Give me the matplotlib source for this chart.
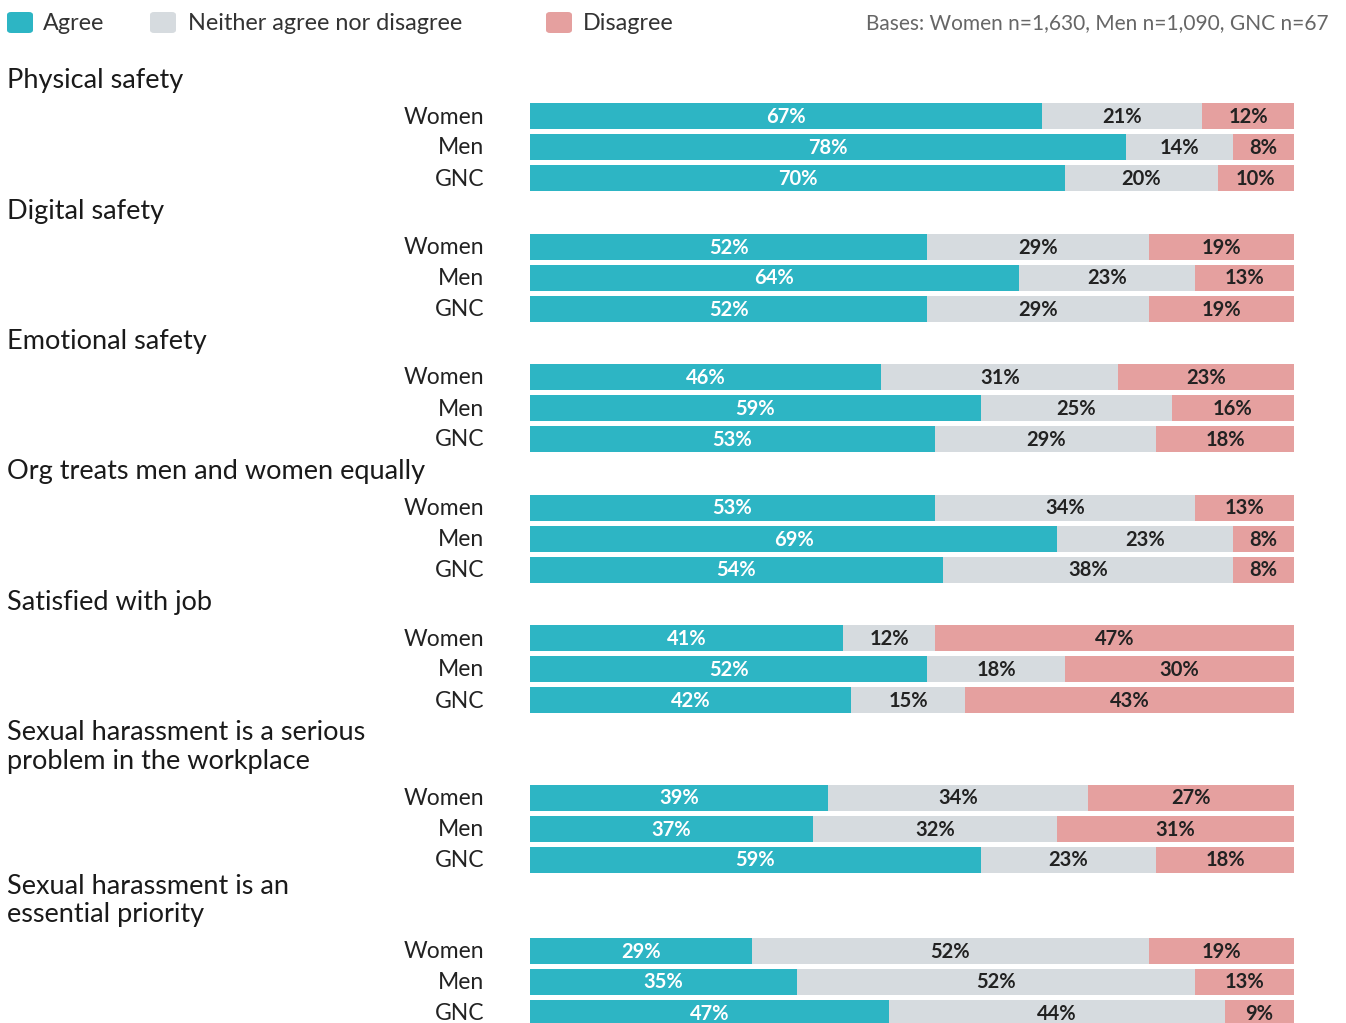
import matplotlib.pyplot as plt
from matplotlib.patches import FancyBboxPatch

plt.rcParams['font.family'] = ['Lato', 'DejaVu Sans']

# data
questions = [
    "Physical safety",
    "Digital safety",
    "Emotional safety",
    "Org treats men and women equally",
    "Satisfied with job",
    "Sexual harassment is a serious\nproblem in the workplace",
    "Sexual harassment is an\nessential priority",
]
groups = ["Women", "Men", "GNC"]
agree = [
    [67, 78, 70],
    [52, 64, 52],
    [46, 59, 53],
    [53, 69, 54],
    [41, 52, 42],
    [39, 37, 59],
    [29, 35, 47],
]
neither = [
    [21, 14, 20],
    [29, 23, 29],
    [31, 25, 29],
    [34, 23, 38],
    [12, 18, 15],
    [34, 32, 23],
    [52, 52, 44],
]
disagree = [
    [12, 8, 10],
    [19, 13, 19],
    [23, 16, 18],
    [13, 8, 8],
    [47, 30, 43],
    [27, 31, 18],
    [19, 13, 9],
]
series_names = ["Agree", "Neither agree nor disagree", "Disagree"]
colors = ["#2db5c4", "#d6dbdf", "#e5a09f"]
text_colors = ["white", "#222222", "#222222"]
bases = "Bases: Women n=1,630, Men n=1,090, GNC n=67"

W, H = 1346, 1023
fig = plt.figure(figsize=(W / 100, H / 100), dpi=100)

# bar axes: x from 530px to 1294px, y in pixels (top = 0)
ax = fig.add_axes([530 / W, 0, (1294 - 530) / W, 1])
ax.set_xlim(0, 100)
ax.set_ylim(H, 0)
ax.axis("off")

def fx(px):
    # pixel x -> data x of ax
    return (px - 530) / (1294 - 530) * 100

row_step = 31
bar_h = 26
title_line = 29
gaps = [0, 32.5, 32.5, 32.5, 32.5, 32.5, 26]  # space between previous block and title
cursor = 80
for qi, q in enumerate(questions):
    cursor += gaps[qi]
    nlines = q.count("\n") + 1
    ax.text(fx(7), cursor - 12, q, fontsize=19.5, color="#1a1a1a",
            ha="left", va="top", clip_on=False, linespacing=1.16)
    first = cursor + title_line * (nlines - 1) + 36
    for gi, g in enumerate(groups):
        y = first + gi * row_step
        vals = [agree[qi][gi], neither[qi][gi], disagree[qi][gi]]
        left = 0
        for si, v in enumerate(vals):
            ax.barh(y, v, left=left, height=bar_h, color=colors[si], linewidth=0)
            ax.text(left + v / 2, y + 1, f"{v}%", ha="center", va="center",
                    fontsize=14.5, fontweight="bold", color=text_colors[si])
            left += v
        ax.text(fx(484), y + 1, g, ha="right", va="center", fontsize=16.5,
                color="#222222", clip_on=False)
    cursor = first + 2 * row_step

# legend
legend_x = [7, 150, 546]
text_x = [43, 188, 583]
for si, name in enumerate(series_names):
    fig.patches.append(FancyBboxPatch(
        (legend_x[si] / W, 1 - 33 / H), 26 / W, 21 / H,
        boxstyle="round,pad=0,rounding_size=0.003",
        transform=fig.transFigure, facecolor=colors[si], edgecolor="none"))
    fig.text(text_x[si] / W, 1 - 23 / H, name, fontsize=16.8, color="#333333",
             ha="left", va="center")
fig.text(1329 / W, 1 - 23 / H, bases, fontsize=15, color="#666666",
         ha="right", va="center")

fig.savefig("out.png", dpi=100)
